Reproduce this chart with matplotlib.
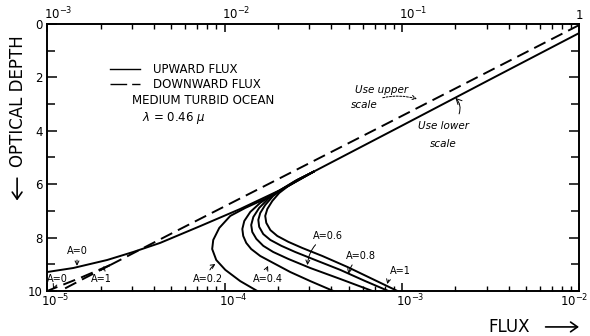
import numpy as np
import matplotlib
matplotlib.use("Agg")
import matplotlib.pyplot as plt
from matplotlib.patches import FancyArrowPatch
from matplotlib.transforms import offset_copy
from matplotlib.ticker import FixedLocator, LogLocator, NullFormatter

# ---- upward flux (lower scale), log10 of flux vs optical depth ----
up_logf = [-2.0, -2.5, -3.0, -3.5]
up_tau = [0.34, 2.07, 3.81, 5.54]

# branches near the bottom, one per bottom albedo A
a0_logf = [-3.5, -3.686, -3.912, -4.137, -4.363, -4.515, -4.662, -4.853, -5.0]
a0_tau = [5.54, 6.22, 6.93, 7.57, 8.20, 8.54, 8.84, 9.14, 9.29]

a02_logf = [-3.5, -3.630, -3.771, -3.883, -3.968, -4.030, -4.064, -4.070,
            -4.047, -3.996, -3.912, -3.816]
a02_tau = [5.54, 6.03, 6.55, 6.89, 7.19, 7.64, 8.09, 8.43, 8.84, 9.21, 9.63, 10.0]

a04_logf = [-3.5, -3.613, -3.714, -3.799, -3.855, -3.889, -3.900, -3.895,
            -3.878, -3.850, -3.799, -3.726, -3.630, -3.517, -3.387]
a04_tau = [5.54, 5.96, 6.33, 6.70, 7.04, 7.38, 7.68, 7.94, 8.20, 8.43, 8.69,
           8.95, 9.29, 9.63, 10.0]

a06_logf = [-3.5, -3.602, -3.686, -3.754, -3.805, -3.838, -3.850, -3.844,
            -3.821, -3.782, -3.726, -3.641, -3.517, -3.348, -3.167]
a06_tau = [5.54, 5.88, 6.22, 6.55, 6.89, 7.23, 7.53, 7.79, 8.05, 8.31, 8.54,
           8.80, 9.14, 9.55, 10.0]

a08_logf = [-3.5, -3.590, -3.663, -3.726, -3.771, -3.799, -3.810, -3.805,
            -3.782, -3.742, -3.680, -3.602, -3.489, -3.348, -3.207, -3.077]
a08_tau = [5.54, 5.84, 6.14, 6.44, 6.78, 7.08, 7.34, 7.60, 7.87, 8.09, 8.31,
           8.54, 8.84, 9.21, 9.63, 10.0]

a1_logf = [-3.5, -3.579, -3.641, -3.692, -3.731, -3.759, -3.771, -3.765,
           -3.742, -3.703, -3.641, -3.562, -3.449, -3.308, -3.167, -3.026]
a1_tau = [5.54, 5.81, 6.07, 6.33, 6.63, 6.93, 7.19, 7.45, 7.72, 7.94, 8.16,
          8.39, 8.69, 9.10, 9.55, 10.0]

# ---- downward flux (upper scale) ----
down_logf = [0.0, -1.122, -2.250, -2.645]
down_tau = [0.04, 3.86, 7.68, 9.03]
down_a0_logf = [-2.645, -2.814, -3.0]
down_a0_tau = [9.03, 9.51, 10.0]
down_a1_logf = [-2.645, -2.786, -2.927]
down_a1_tau = [9.03, 9.51, 10.0]

# tick labels of the two flux scales
lower_ticks = [1e-5, 1e-4, 1e-3, 1e-2]
lower_labels = [r'$10^{-5}$', r'$10^{-4}$', r'$10^{-3}$', r'$10^{-2}$']
upper_ticks = [1e-3, 1e-2, 1e-1, 1.0]
upper_labels = [r'$10^{-3}$', r'$10^{-2}$', r'$10^{-1}$', '1']

plt.rcParams['font.family'] = 'DejaVu Sans'
plt.rcParams['lines.scale_dashes'] = True

fig = plt.figure(figsize=(5.9, 3.36), dpi=100)
ax = fig.add_axes([0.080, 0.134, 0.902, 0.795])

LW = 1.4
ax.plot(10 ** np.array(up_logf), up_tau, color='black', lw=LW)
for lf, tt in [(a0_logf, a0_tau), (a02_logf, a02_tau), (a04_logf, a04_tau),
               (a06_logf, a06_tau), (a08_logf, a08_tau), (a1_logf, a1_tau)]:
    ax.plot(10 ** np.array(lf), tt, color='black', lw=LW)

ax.set_xscale('log')
ax.set_xlim(1e-5, 1e-2)
ax.set_ylim(10, 0)

ax2 = ax.twiny()
ax2.set_xscale('log')
ax2.set_xlim(1e-3, 1)
for lf, tt in [(down_logf, down_tau), (down_a0_logf, down_a0_tau),
               (down_a1_logf, down_a1_tau)]:
    ax2.plot(10 ** np.array(lf), tt, color='black', lw=LW, dashes=(6.5, 3.3))
ax2.set_ylim(10, 0)

for a in (ax, ax2):
    a.xaxis.set_major_locator(LogLocator(base=10))
    a.xaxis.set_minor_locator(LogLocator(base=10, subs=np.arange(2, 10)))
    a.xaxis.set_minor_formatter(NullFormatter())
    for s in a.spines.values():
        s.set_linewidth(1.2)

ax.yaxis.set_major_locator(FixedLocator([0, 2, 4, 6, 8, 10]))
ax.yaxis.set_minor_locator(FixedLocator([1, 3, 5, 7, 9]))
ax.tick_params(axis='y', which='major', direction='in', length=7, width=1.1,
               labelsize=8.5, pad=3, right=True)
ax.tick_params(axis='y', which='minor', direction='in', length=5.5, width=1.1,
               right=True)
ax.tick_params(axis='x', which='major', direction='in', length=5.5, width=1.1,
               labelbottom=False)
ax.tick_params(axis='x', which='minor', direction='in', length=3.5, width=1.0)
ax2.tick_params(axis='x', which='major', direction='in', length=5.5, width=1.1,
                labeltop=False)
ax2.tick_params(axis='x', which='minor', direction='in', length=3.5, width=1.0)

# decade labels, written with the "10" sitting over the tick
xb = ax.get_xaxis_transform()
for i, (v, s) in enumerate(zip(lower_ticks, lower_labels)):
    if i == len(lower_ticks) - 1:
        # last one is pulled inside the right edge
        ax.text(v, -0.008, s, fontsize=8.5, ha='right', va='top',
                transform=offset_copy(xb, fig=fig, x=9, units='dots'))
    else:
        ax.text(v, -0.008, s, fontsize=8.5, ha='left', va='top',
                transform=offset_copy(xb, fig=fig, x=-6, units='dots'))
xt = ax2.get_xaxis_transform()
for v, s in zip(upper_ticks, upper_labels):
    if s == '1':
        ax2.text(v, 1.006, s, fontsize=8.5, ha='center', va='bottom', transform=xt)
    else:
        ax2.text(v, 1.006, s, fontsize=8.5, ha='left', va='bottom',
                 transform=offset_copy(xt, fig=fig, x=-3, units='dots'))

# legend block
ax.plot([0.118, 0.175], [0.831, 0.831], transform=ax.transAxes, color='black', lw=1.0)
ax.plot([0.118, 0.175], [0.775, 0.775], transform=ax.transAxes, color='black', lw=1.0,
        dashes=(12, 3.6))
ax.text(0.199, 0.828, 'UPWARD FLUX', transform=ax.transAxes, fontsize=8.5, va='center')
ax.text(0.199, 0.772, 'DOWNWARD FLUX', transform=ax.transAxes, fontsize=8.5, va='center')
ax.text(0.293, 0.712, 'MEDIUM TURBID OCEAN', transform=ax.transAxes, fontsize=8.5,
        va='center', ha='center')
ax.text(0.237, 0.648, r'$\lambda$ = 0.46 $\mu$', transform=ax.transAxes, fontsize=8.5,
        va='center', ha='center')

# scale notes
ax.text(0.628, 0.753, 'Use upper', transform=ax.transAxes, fontsize=7.5,
        style='italic', ha='center', va='center')
ax.annotate('scale', xy=(0.695, 0.719), xytext=(0.570, 0.697), xycoords='axes fraction',
            fontsize=7.5, style='italic', va='center',
            arrowprops=dict(arrowstyle='->', lw=0.7, linestyle=(0, (2, 1.5)),
                            connectionstyle='arc3,rad=-0.2', shrinkA=2, shrinkB=0))
ax.text(0.744, 0.618, 'Use lower', transform=ax.transAxes, fontsize=7.5,
        style='italic', ha='center', va='center')
ax.text(0.744, 0.551, 'scale', transform=ax.transAxes, fontsize=7.5,
        style='italic', ha='center', va='center')
ax.annotate('', xy=(0.767, 0.723), xytext=(0.774, 0.663), xycoords='axes fraction',
            arrowprops=dict(arrowstyle='->', lw=0.7,
                            connectionstyle='arc3,rad=0.3', shrinkA=0, shrinkB=0))

# albedo labels
albedo_labels = ['A=0', 'A=0', 'A=1', 'A=0.2', 'A=0.4', 'A=0.6', 'A=0.8', 'A=1']
label_pos = [(0.056, 0.150), (0.019, 0.045), (0.102, 0.045), (0.303, 0.045),
             (0.414, 0.045), (0.528, 0.206), (0.590, 0.131), (0.664, 0.075)]
arrow_tip = [(0.056, 0.094), (0.011, 0.008), (0.107, 0.094), (0.316, 0.101),
             (0.415, 0.094), (0.489, 0.097), (0.566, 0.064), (0.639, 0.026)]
arrow_rad = [0.0, 0.0, 0.0, -0.3, -0.2, 0.3, 0.2, 0.3]
for txt, p, t, r in zip(albedo_labels, label_pos, arrow_tip, arrow_rad):
    ax.annotate(txt, xy=t, xytext=p, xycoords='axes fraction', fontsize=7,
                ha='center', va='center',
                arrowprops=dict(arrowstyle='->', lw=0.7, shrinkA=1, shrinkB=0,
                                connectionstyle='arc3,rad=%s' % r))

# axis titles with arrows
fig.text(0.031, 0.700, 'OPTICAL DEPTH', rotation=90, fontsize=12,
         ha='center', va='center')
fig.patches.append(FancyArrowPatch(
    (0.029, 0.478), (0.029, 0.395), transform=fig.transFigure,
    arrowstyle='->,head_length=5,head_width=3.5', lw=1.2, color='black'))
fig.text(0.863, 0.027, 'FLUX', fontsize=12, ha='center', va='center')
fig.patches.append(FancyArrowPatch(
    (0.920, 0.027), (0.986, 0.027), transform=fig.transFigure,
    arrowstyle='->,head_length=5,head_width=3.5', lw=1.2, color='black'))

fig.savefig('out.png', dpi=100)
